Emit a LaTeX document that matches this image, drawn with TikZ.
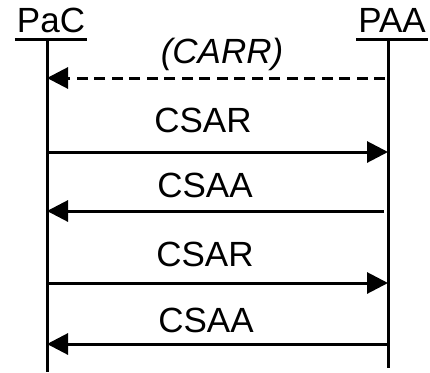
\documentclass[tikz,border=0pt]{standalone}
\usepackage{fontspec}
\setmainfont{Liberation Sans}
\usetikzlibrary{arrows.meta}

\begin{document}
\begin{tikzpicture}[x=1pt, y=1pt, font=\fontsize{35}{38}\selectfont,
                    ln/.style={line width=3pt},
                    msg/.style={ln, -{Triangle[length=21pt, width=21pt]}},
                    ask/.style={msg, dash pattern=on 11pt off 6.5pt},
                    head/.style={anchor=base, inner xsep=2pt, inner ysep=0pt},
                    lbl/.style={anchor=base, inner sep=0pt}]
  \useasboundingbox (0,0) rectangle (430,-372);
  % entities
  \node[head] (pac) at (51,-32) {PaC};
  \node[head] (paa) at (392,-32) {PAA};
  \draw[ln] ([yshift=-7pt]pac.base west) -- ([yshift=-7pt]pac.base east);
  \draw[ln] ([yshift=-7pt]paa.base west) -- ([yshift=-7pt]paa.base east);
  \coordinate (pactop) at (47,-39);  \coordinate (pacbot) at (47,-372);
  \coordinate (paatop) at (388,-39); \coordinate (paabot) at (388,-368);
  \draw[ln] (pactop) -- (pacbot);
  \draw[ln] (paatop) -- (paabot);
  \foreach \n/\yy in {1/78,2/152,3/211,4/283,5/344} {
    \coordinate (l\n) at (47,-\yy);
    \coordinate (r\n) at (388,-\yy);
  }
  % messages
  \draw[ask] ([xshift=-3pt]r1) -- (l1);
  \node[lbl] (carr) at (222,-63) {\itshape (CARR)};
  \draw[msg] (l2) -- (r2);
  \node[lbl] (csar1) at (203,-132) {CSAR};
  \draw[msg] ([xshift=-4pt]r3) -- (l3);
  \node[lbl] (csaa1) at (205,-197) {CSAA};
  \draw[msg] (l4) -- (r4);
  \node[lbl] (csar2) at (205,-266) {CSAR};
  \draw[msg] (r5) -- (l5);
  \node[lbl] (csaa2) at (206,-332) {CSAA};
\end{tikzpicture}
\end{document}
